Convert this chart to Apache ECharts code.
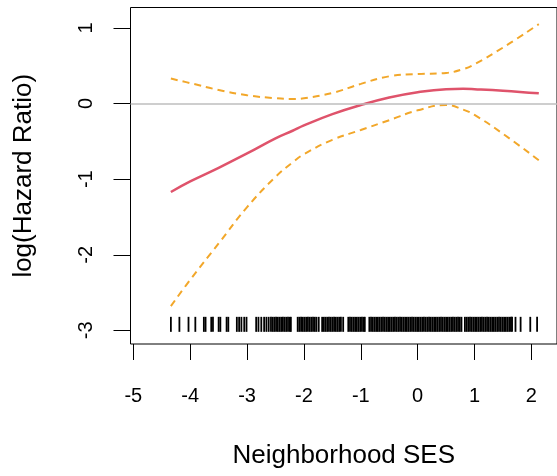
<!DOCTYPE html>
<html>
<head>
<meta charset="utf-8">
<script src="https://cdn.jsdelivr.net/npm/echarts@6/dist/echarts.min.js"></script>
<style>
html,body{margin:0;padding:0;background:#fff;}
#chart{width:557px;height:476px;}
</style>
</head>
<body>
<div id="chart"></div>
<script>
// SES values where the curves are evaluated
var sesGrid = [-4.34, -4.0, -3.5, -3.0, -2.5, -2.2, -2.0, -1.5, -1.0, -0.5, 0.0, 0.5, 0.8, 1.0, 1.5, 2.13];
// estimated log hazard ratio
var estimate = [-1.17, -1.03, -0.85, -0.66, -0.46, -0.36, -0.29, -0.14, -0.02, 0.08, 0.15, 0.19, 0.195, 0.19, 0.17, 0.135];
// upper confidence band
var upper = [0.33, 0.27, 0.18, 0.11, 0.07, 0.06, 0.07, 0.14, 0.26, 0.36, 0.39, 0.405, 0.455, 0.52, 0.74, 1.05];
// lower confidence band
var lower = [-2.68, -2.33, -1.85, -1.37, -0.97, -0.78, -0.67, -0.48, -0.35, -0.22, -0.09, -0.02, -0.08, -0.15, -0.40, -0.75];
// observed SES values (rug)
var rugValues = [-4.34, -4.19, -4.03, -3.91, -3.76, -3.73, -3.63, -3.60, -3.50, -3.47, -3.36, -3.33, -3.18, -3.14, -3.10, -3.05, -3.01,
  -2.84, -2.80, -2.75, -2.70, -2.66, -2.62, -2.58, -2.55,
  -2.52, -2.49, -2.46, -2.43, -2.40, -2.37, -2.34, -2.31, -2.28, -2.25, -2.23,
  -2.11, -2.08, -2.05, -2.02, -1.99, -1.96, -1.93, -1.90, -1.87, -1.84, -1.81, -1.78, -1.74,
  -1.68, -1.65, -1.62, -1.59, -1.56, -1.53, -1.50, -1.47, -1.44, -1.41, -1.38, -1.35, -1.31,
  -1.22, -1.19, -1.16, -1.13, -1.10, -1.07, -1.04, -1.01, -0.98, -0.95, -0.93,
  -0.85, -0.82, -0.79, -0.76, -0.73, -0.70, -0.67, -0.64, -0.61, -0.58, -0.55, -0.52, -0.49, -0.46, -0.43, -0.40,
  -0.37, -0.34, -0.31, -0.28, -0.25, -0.22, -0.19, -0.16, -0.13, -0.10, -0.07, -0.04, -0.01,
  0.02, 0.05, 0.08, 0.11, 0.14, 0.17, 0.20, 0.23, 0.26, 0.29, 0.32, 0.35, 0.38, 0.41, 0.44, 0.47, 0.50,
  0.53, 0.56, 0.59, 0.62, 0.65, 0.68, 0.71, 0.74, 0.77,
  0.83, 0.86, 0.89, 0.92, 0.95, 0.98, 1.01, 1.04, 1.07, 1.10, 1.13, 1.16, 1.19, 1.22, 1.25, 1.28, 1.31,
  1.34, 1.37, 1.40, 1.43, 1.46, 1.49, 1.52, 1.55, 1.58, 1.61, 1.64, 1.66, 1.72, 1.81, 1.98, 2.10];
var rugLevel = -2.92;
var xTicks = [-5, -4, -3, -2, -1, 0, 1, 2];
var yTicks = [-3, -2, -1, 0, 1];

function pairs(xs, ys) { return xs.map(function (x, i) { return [x, ys[i]]; }); }

var chart = echarts.init(document.getElementById('chart'), null, {renderer: 'canvas'});
var font = 'Liberation Sans, Arial, sans-serif';
chart.setOption({
  animation: false,
  backgroundColor: '#fff',
  grid: {left: 130.5, top: 7.5, width: 433, height: 336.5, show: true, borderColor: '#000', borderWidth: 1, containLabel: false},
  xAxis: {
    type: 'value', min: -5.05, max: 2.45,
    name: 'Neighborhood SES', nameLocation: 'middle', nameGap: 99,
    nameTextStyle: {fontFamily: font, fontSize: 26, color: '#000'},
    axisLine: {show: false, onZero: false},
    splitLine: {show: false},
    axisTick: {show: true, length: 16, customValues: xTicks, lineStyle: {color: '#000', width: 1}},
    axisLabel: {customValues: xTicks, margin: 42, fontFamily: font, fontSize: 20, color: '#000'}
  },
  yAxis: {
    type: 'value', min: -3.18, max: 1.27,
    name: 'log(Hazard Ratio)', nameLocation: 'middle', nameGap: 94,
    nameTextStyle: {fontFamily: font, fontSize: 26, color: '#000'},
    axisLine: {show: false, onZero: false},
    splitLine: {show: false},
    axisTick: {show: true, length: 17, customValues: yTicks, lineStyle: {color: '#000', width: 1}},
    axisLabel: {customValues: yTicks, rotate: 90, margin: 34, fontFamily: font, fontSize: 20, color: '#000'}
  },
  series: [
    {
      type: 'line', data: [], silent: true,
      markLine: {symbol: 'none', silent: true, label: {show: false},
        lineStyle: {color: '#bebebe', width: 1.5, type: 'solid'},
        data: [{yAxis: 0}]}
    },
    {
      type: 'scatter', data: rugValues.map(function (v) { return [v, rugLevel]; }),
      symbol: 'rect', symbolSize: [1.8, 15], itemStyle: {color: '#000', opacity: 1}, silent: true
    },
    {
      type: 'line', data: pairs(sesGrid, upper), smooth: 0.45, showSymbol: false,
      lineStyle: {color: '#f2a72a', width: 2, type: [7, 5]}
    },
    {
      type: 'line', data: pairs(sesGrid, lower), smooth: 0.45, showSymbol: false,
      lineStyle: {color: '#f2a72a', width: 2, type: [7, 5]}
    },
    {
      type: 'line', data: pairs(sesGrid, estimate), smooth: 0.45, showSymbol: false,
      lineStyle: {color: '#df536b', width: 2.5}
    }
  ]
});
</script>
</body>
</html>
